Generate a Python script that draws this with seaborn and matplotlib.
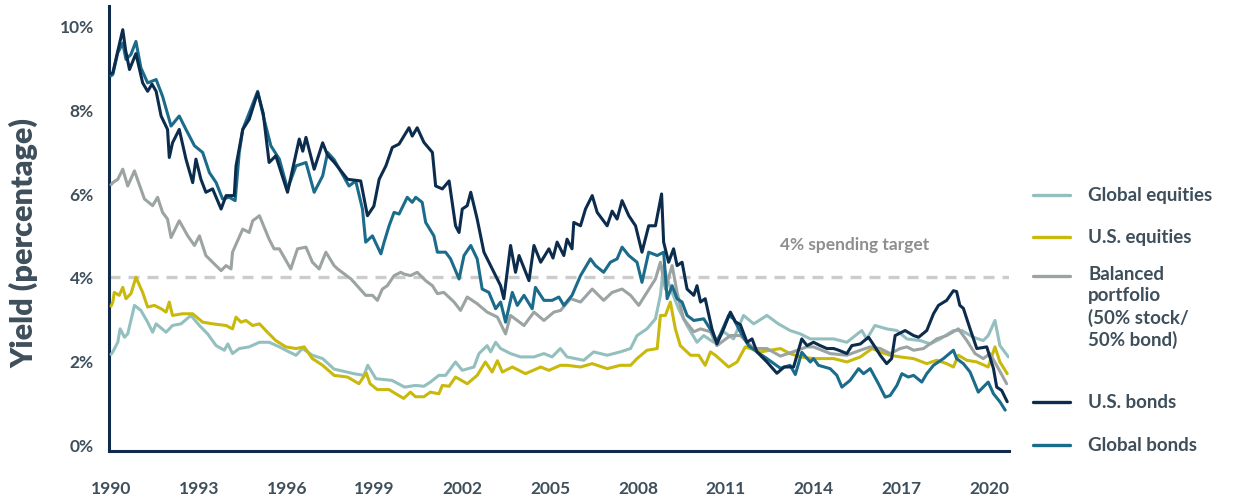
import matplotlib
matplotlib.use("Agg")
import matplotlib.pyplot as plt
from matplotlib.lines import Line2D
import seaborn as sns

# ---------------- data ----------------
us_bonds_t = [1990.0, 1990.06, 1990.2, 1990.4, 1990.5, 1990.63, 1990.85, 1991.08, 1991.25, 1991.4, 1991.54,
              1991.71, 1991.93, 1991.99, 1992.1, 1992.33, 1992.56, 1992.79, 1992.9, 1993.07, 1993.24, 1993.47,
              1993.76, 1993.93, 1994.21, 1994.27, 1994.5, 1994.72, 1995.01, 1995.2, 1995.4, 1995.63, 1996.03,
              1996.43, 1996.55, 1996.66, 1996.94, 1997.23, 1997.4, 1997.62, 1998.08, 1998.53, 1998.76, 1998.98,
              1999.16, 1999.39, 1999.61, 1999.84, 2000.18, 2000.29, 2000.46, 2000.69, 2000.98, 2001.09, 2001.32,
              2001.55, 2001.77, 2001.89, 2002.0, 2002.17, 2002.29, 2002.51, 2002.74, 2003.08, 2003.31, 2003.42,
              2003.65, 2003.82, 2003.94, 2004.28, 2004.45, 2004.68, 2004.96, 2005.1, 2005.24, 2005.47, 2005.58,
              2005.75, 2005.81, 2006.04, 2006.21, 2006.44, 2006.61, 2006.95, 2007.12, 2007.29, 2007.46, 2007.69,
              2007.92, 2008.14, 2008.37, 2008.6, 2008.81, 2008.88, 2009.05, 2009.22, 2009.34, 2009.51, 2009.68,
              2009.91, 2010.02, 2010.14, 2010.3, 2010.53, 2010.7, 2010.93, 2011.16, 2011.33, 2011.5, 2011.73,
              2011.9, 2012.07, 2012.41, 2012.75, 2013.0, 2013.32, 2013.6, 2013.78, 2014.0, 2014.23, 2014.46,
              2014.69, 2014.86, 2015.14, 2015.31, 2015.6, 2015.88, 2016.1, 2016.28, 2016.5, 2016.67, 2016.79,
              2017.13, 2017.42, 2017.59, 2017.87, 2018.1, 2018.27, 2018.55, 2018.78, 2018.89, 2019.0, 2019.12,
              2019.35, 2019.58, 2019.92, 2020.15, 2020.26, 2020.43, 2020.62]
us_bonds_v = [8.85, 8.87, 9.3, 9.9, 9.4, 8.95, 9.33, 8.63, 8.43, 8.6, 8.43,
              7.84, 7.52, 6.85, 7.2, 7.52, 6.81, 6.25, 6.81, 6.33, 6.02, 6.1,
              5.62, 5.94, 5.94, 6.65, 7.52, 7.76, 8.4, 7.9, 6.73, 6.89, 6.02,
              7.29, 7.0, 7.33, 6.57, 7.2, 6.9, 6.74, 6.33, 6.29, 5.46, 5.69,
              6.33, 6.65, 7.09, 7.17, 7.56, 7.36, 7.56, 7.21, 6.97, 6.17, 6.1,
              6.29, 5.22, 5.06, 5.62, 5.7, 6.02, 5.38, 4.59, 4.11, 3.79, 3.48,
              4.75, 4.11, 4.51, 3.91, 4.75, 4.35, 4.67, 4.45, 4.83, 4.51, 4.9,
              4.67, 5.3, 5.22, 5.62, 5.94, 5.54, 5.22, 5.57, 5.38, 5.82, 5.46,
              5.22, 4.59, 5.22, 5.22, 5.98, 4.83, 4.35, 4.67, 4.27, 4.35, 3.71,
              3.56, 3.79, 3.4, 3.48, 2.76, 2.4, 2.76, 3.16, 2.93, 2.86, 2.44,
              2.52, 2.21, 1.97, 1.7, 1.85, 1.85, 2.52, 2.36, 2.44, 2.36, 2.29,
              2.29, 2.25, 2.17, 2.36, 2.4, 2.56, 2.33, 2.13, 1.93, 2.05, 2.6,
              2.72, 2.6, 2.56, 2.72, 3.12, 3.32, 3.44, 3.67, 3.65, 3.32, 3.25,
              2.76, 2.29, 2.33, 1.81, 1.37, 1.29, 1.02]

global_bonds_t = [1990.0, 1990.06, 1990.23, 1990.4, 1990.51, 1990.68, 1990.85, 1991.02, 1991.25, 1991.54, 1991.76,
                  1992.05, 1992.33, 1992.56, 1992.85, 1993.13, 1993.36, 1993.59, 1993.81, 1994.04, 1994.24, 1994.38,
                  1994.5, 1994.78, 1995.01, 1995.23, 1995.46, 1995.75, 1996.03, 1996.32, 1996.66, 1996.94, 1997.23,
                  1997.4, 1997.62, 1997.74, 1998.13, 1998.36, 1998.59, 1998.7, 1998.93, 1999.22, 1999.33, 1999.5,
                  1999.67, 1999.84, 2000.12, 2000.29, 2000.41, 2000.63, 2000.75, 2001.03, 2001.15, 2001.43, 2001.6,
                  2001.89, 2002.06, 2002.29, 2002.51, 2002.68, 2002.91, 2003.14, 2003.31, 2003.48, 2003.71, 2003.88,
                  2004.11, 2004.39, 2004.5, 2004.79, 2005.07, 2005.3, 2005.47, 2005.75, 2006.04, 2006.38, 2006.55,
                  2006.83, 2007.06, 2007.29, 2007.46, 2007.69, 2007.97, 2008.14, 2008.37, 2008.66, 2008.88, 2009.0,
                  2009.17, 2009.34, 2009.51, 2009.68, 2009.91, 2010.25, 2010.53, 2010.7, 2011.1, 2011.27, 2011.5,
                  2011.78, 2012.07, 2012.41, 2012.87, 2013.2, 2013.38, 2013.6, 2013.89, 2014.0, 2014.17, 2014.57,
                  2014.8, 2014.97, 2015.25, 2015.54, 2015.71, 2015.94, 2016.22, 2016.45, 2016.62, 2016.85, 2017.02,
                  2017.24, 2017.42, 2017.7, 2017.87, 2018.1, 2018.44, 2018.78, 2018.89, 2019.12, 2019.35, 2019.63,
                  2019.8, 2019.97, 2020.15, 2020.37, 2020.55]
global_bonds_v = [8.8, 8.83, 9.35, 9.58, 9.19, 9.31, 9.62, 8.99, 8.63, 8.71, 8.31,
                  7.6, 7.84, 7.52, 7.13, 6.97, 6.49, 6.25, 5.86, 5.9, 5.82, 6.97,
                  7.52, 8.02, 8.43, 7.76, 7.13, 6.81, 6.1, 6.65, 6.73, 6.02, 6.41,
                  6.97, 6.8, 6.65, 6.17, 6.29, 5.62, 4.83, 4.98, 4.55, 4.83, 5.22,
                  5.54, 5.5, 5.9, 5.78, 5.9, 5.78, 5.3, 4.98, 4.59, 4.59, 4.43,
                  3.95, 4.51, 4.75, 4.43, 3.71, 3.63, 3.24, 3.4, 2.92, 3.63, 3.32,
                  3.56, 3.24, 3.75, 3.44, 3.44, 3.52, 3.32, 3.56, 4.03, 4.43, 4.27,
                  4.11, 4.35, 4.43, 4.71, 4.51, 4.35, 3.87, 4.59, 4.51, 4.59, 3.48,
                  3.79, 3.48, 3.4, 3.08, 2.96, 3.0, 2.69, 2.44, 3.08, 3.0, 2.69,
                  2.36, 2.21, 2.05, 1.82, 1.89, 1.67, 2.2, 1.97, 2.05, 1.89, 1.81,
                  1.65, 1.37, 1.53, 1.81, 1.69, 1.81, 1.45, 1.13, 1.17, 1.41, 1.69,
                  1.61, 1.65, 1.49, 1.69, 1.89, 2.05, 2.25, 2.05, 1.93, 1.73, 1.25,
                  1.37, 1.49, 1.21, 1.02, 0.82]

balanced_t = [1990.0, 1990.06, 1990.23, 1990.4, 1990.57, 1990.8, 1991.14, 1991.42, 1991.59, 1991.76, 1991.93,
              1992.05, 1992.33, 1992.62, 1992.85, 1993.02, 1993.24, 1993.47, 1993.76, 1993.93, 1994.1, 1994.15,
              1994.5, 1994.72, 1994.84, 1995.07, 1995.4, 1995.57, 1995.75, 1996.14, 1996.37, 1996.66, 1996.88,
              1997.11, 1997.34, 1997.62, 1997.74, 1998.2, 1998.7, 1998.93, 1999.1, 1999.27, 1999.44, 1999.67,
              1999.9, 2000.0, 2000.23, 2000.46, 2000.75, 2000.98, 2001.15, 2001.37, 2001.72, 2001.94, 2002.17,
              2002.51, 2002.85, 2003.2, 2003.48, 2003.65, 2003.88, 2004.11, 2004.45, 2004.79, 2005.13, 2005.36,
              2005.7, 2006.04, 2006.44, 2006.83, 2007.12, 2007.46, 2007.75, 2008.03, 2008.31, 2008.6, 2008.77,
              2008.94, 2009.17, 2009.34, 2009.56, 2009.91, 2010.14, 2010.48, 2010.7, 2011.16, 2011.5, 2011.96,
              2012.41, 2012.87, 2013.3, 2013.77, 2014.0, 2014.57, 2015.14, 2015.6, 2015.94, 2016.28, 2016.62,
              2016.96, 2017.19, 2017.42, 2017.76, 2018.21, 2018.55, 2018.95, 2019.24, 2019.52, 2019.8, 2020.03,
              2020.32, 2020.6]
balanced_v = [6.2, 6.25, 6.33, 6.57, 6.17, 6.53, 5.86, 5.7, 5.9, 5.54, 5.38,
              4.94, 5.34, 4.98, 4.75, 4.98, 4.51, 4.35, 4.15, 4.27, 4.19, 4.59,
              5.14, 5.06, 5.34, 5.46, 4.9, 4.67, 4.67, 4.19, 4.67, 4.71, 4.35,
              4.19, 4.59, 4.27, 4.19, 3.95, 3.56, 3.56, 3.44, 3.71, 3.79, 4.03,
              4.11, 4.07, 4.03, 4.11, 3.91, 3.79, 3.6, 3.63, 3.4, 3.2, 3.52,
              3.36, 3.16, 3.04, 2.64, 3.08, 2.96, 2.84, 3.16, 2.96, 3.16, 3.2,
              3.48, 3.4, 3.71, 3.44, 3.63, 3.71, 3.56, 3.32, 3.63, 3.95, 4.35,
              3.71, 4.27, 3.63, 3.0, 2.69, 2.76, 2.69, 2.36, 2.6, 2.6, 2.29,
              2.29, 2.11, 2.21, 2.33, 2.33, 2.17, 2.13, 2.25, 2.33, 2.29, 2.17,
              2.29, 2.33, 2.25, 2.29, 2.52, 2.6, 2.76, 2.48, 2.17, 2.05, 2.17,
              1.81, 1.45]

us_equities_t = [1990.0, 1990.06, 1990.11, 1990.28, 1990.4, 1990.51, 1990.68, 1990.85, 1991.08, 1991.25, 1991.48,
                 1991.71, 1991.88, 1991.99, 1992.1, 1992.44, 1992.79, 1993.13, 1993.47, 1993.93, 1994.15, 1994.27,
                 1994.44, 1994.61, 1994.84, 1995.07, 1995.4, 1995.63, 1995.97, 1996.32, 1996.6, 1996.88, 1997.23,
                 1997.62, 1998.08, 1998.47, 1998.72, 1998.85, 1999.1, 1999.5, 1999.73, 2000.0, 2000.23, 2000.4,
                 2000.69, 2000.91, 2001.2, 2001.32, 2001.55, 2001.77, 2002.17, 2002.51, 2002.79, 2003.02, 2003.2,
                 2003.37, 2003.71, 2004.16, 2004.68, 2004.96, 2005.35, 2005.58, 2006.04, 2006.44, 2006.95, 2007.4,
                 2007.75, 2007.97, 2008.31, 2008.66, 2008.77, 2008.94, 2009.11, 2009.28, 2009.45, 2009.8, 2010.08,
                 2010.3, 2010.48, 2010.65, 2011.1, 2011.39, 2011.67, 2012.18, 2012.87, 2013.2, 2013.55, 2014.0,
                 2014.69, 2015.14, 2015.6, 2016.0, 2016.28, 2016.62, 2016.96, 2017.42, 2017.87, 2018.21, 2018.55,
                 2018.78, 2018.95, 2019.24, 2019.58, 2019.97, 2020.2, 2020.37, 2020.62]
us_equities_v = [3.3, 3.4, 3.63, 3.56, 3.75, 3.48, 3.6, 3.99, 3.63, 3.28, 3.32,
                 3.24, 3.16, 3.4, 3.08, 3.12, 3.12, 2.92, 2.88, 2.84, 2.76, 3.04,
                 2.92, 2.96, 2.84, 2.88, 2.64, 2.48, 2.33, 2.29, 2.33, 2.05, 1.89,
                 1.65, 1.61, 1.45, 1.71, 1.45, 1.31, 1.31, 1.21, 1.1, 1.25, 1.14,
                 1.14, 1.25, 1.21, 1.41, 1.39, 1.61, 1.45, 1.65, 1.97, 1.73, 2.0,
                 1.73, 1.85, 1.69, 1.85, 1.77, 1.89, 1.89, 1.85, 1.93, 1.81, 1.89,
                 1.89, 2.05, 2.25, 2.29, 3.08, 3.08, 3.4, 2.76, 2.36, 2.13, 2.13,
                 1.89, 2.21, 2.13, 1.85, 1.97, 2.33, 2.21, 2.29, 2.17, 2.09, 2.05,
                 2.05, 1.97, 2.09, 2.29, 2.21, 2.13, 2.09, 2.05, 1.93, 2.01, 1.93,
                 1.85, 2.13, 2.01, 1.97, 1.85, 2.33, 1.97, 1.69]

global_equities_t = [1990.0, 1990.06, 1990.23, 1990.31, 1990.46, 1990.57, 1990.8, 1991.02, 1991.25, 1991.42, 1991.54,
                     1991.88, 1992.1, 1992.39, 1992.73, 1993.02, 1993.3, 1993.59, 1993.87, 1993.99, 1994.15, 1994.38,
                     1994.72, 1995.07, 1995.4, 1995.75, 1996.08, 1996.32, 1996.54, 1996.88, 1997.23, 1997.62, 1998.3,
                     1998.64, 1998.77, 1999.05, 1999.6, 2000.03, 2000.4, 2000.69, 2000.91, 2001.2, 2001.43, 2001.77,
                     2002.0, 2002.4, 2002.57, 2002.85, 2002.97, 2003.14, 2003.31, 2003.65, 2003.99, 2004.45, 2004.79,
                     2005.07, 2005.35, 2005.58, 2006.15, 2006.49, 2006.95, 2007.4, 2007.75, 2007.97, 2008.31, 2008.6,
                     2008.77, 2008.88, 2009.0, 2009.17, 2009.39, 2009.68, 2010.02, 2010.25, 2010.59, 2010.93, 2011.27,
                     2011.61, 2011.96, 2012.41, 2012.8, 2013.2, 2013.55, 2013.89, 2014.34, 2014.69, 2015.14, 2015.65,
                     2015.82, 2016.1, 2016.5, 2016.85, 2017.19, 2017.65, 2017.99, 2018.33, 2018.78, 2019.07, 2019.46,
                     2019.8, 2019.97, 2020.2, 2020.37, 2020.66]
global_equities_v = [2.15, 2.21, 2.44, 2.76, 2.56, 2.64, 3.32, 3.2, 2.92, 2.68, 2.88,
                     2.68, 2.84, 2.88, 3.08, 2.84, 2.64, 2.36, 2.25, 2.4, 2.17, 2.29,
                     2.33, 2.44, 2.44, 2.33, 2.21, 2.13, 2.29, 2.13, 2.05, 1.8, 1.69,
                     1.65, 1.89, 1.57, 1.53, 1.37, 1.41, 1.39, 1.49, 1.65, 1.65, 1.97,
                     1.77, 1.85, 2.17, 2.36, 2.21, 2.44, 2.29, 2.17, 2.09, 2.09, 2.17,
                     2.09, 2.29, 2.09, 2.01, 2.21, 2.13, 2.21, 2.29, 2.6, 2.76, 3.0,
                     3.56, 4.27, 3.95, 3.63, 3.24, 2.84, 2.44, 2.6, 2.44, 2.69, 2.52,
                     3.08, 2.88, 3.08, 2.88, 2.72, 2.64, 2.52, 2.52, 2.52, 2.44, 2.72,
                     2.52, 2.84, 2.76, 2.72, 2.52, 2.48, 2.4, 2.52, 2.72, 2.72, 2.56,
                     2.48, 2.6, 2.96, 2.36, 2.09]

x_ticks = [1990, 1993, 1996, 1999, 2002, 2005, 2008, 2011, 2014, 2017, 2020]
y_ticks = [0, 2, 4, 6, 8, 10]
y_tick_labels = ["0%", "2%", "4%", "6%", "8%", "10%"]
spending_target = 4.0

legend_labels = ["Global equities", "U.S. equities",
                 "Balanced\nportfolio\n(50% stock/\n50% bond)", "U.S. bonds", "Global bonds"]

# ---------------- style ----------------
sns.set_style("white")
plt.rcParams["font.family"] = ["Lato", "DejaVu Sans"]

C_GEQ = "#93c0bf"
C_UEQ = "#c9b90c"
C_BAL = "#9ba3a3"
C_UBD = "#0c2c4e"
C_GBD = "#1b6b8b"
C_TXT = "#3e4f5b"
C_AX = "#0f2a4a"

W, H = 1236, 502
fig = plt.figure(figsize=(W / 100, H / 100), dpi=100)
ax = fig.add_axes([109 / W, 1 - 452 / H, (1009 - 109) / W, (452 - 7) / H])

lw = 2.2
series = [
    (global_equities_t, global_equities_v, C_GEQ),
    (us_equities_t, us_equities_v, C_UEQ),
    (balanced_t, balanced_v, C_BAL),
    (global_bonds_t, global_bonds_v, C_GBD),
    (us_bonds_t, us_bonds_v, C_UBD),
]

ax.axhline(spending_target, color="#cccccc", lw=2.4, dashes=(3.3, 2.4), zorder=1)

for t, v, c in series:
    sns.lineplot(x=t, y=v, ax=ax, color=c, linewidth=lw, estimator=None, sort=False,
                 solid_joinstyle="round", zorder=3)

ax.set_xlim(1989.93, 2020.68)
ax.set_ylim((445.5 - 452) / 41.9, (445.5 - 7) / 41.9)

ax.set_xticks(x_ticks)
ax.set_xticklabels([str(x) for x in x_ticks])
ax.set_yticks(y_ticks)
ax.set_yticklabels(y_tick_labels)
ax.tick_params(axis="both", length=0, labelsize=12.5, labelcolor=C_TXT)
ax.tick_params(axis="y", pad=11)
ax.tick_params(axis="x", pad=21)
for lab in ax.get_xticklabels() + ax.get_yticklabels():
    lab.set_fontweight("bold")

for s in ["top", "right"]:
    ax.spines[s].set_visible(False)
for s in ["left", "bottom"]:
    ax.spines[s].set_color(C_AX)
    ax.spines[s].set_linewidth(2.2)

ax.set_xlabel("")
ax.set_ylabel("Yield (percentage)", fontsize=22, fontweight="heavy", color=C_TXT)
ax.yaxis.label.set_verticalalignment("center")
ax.yaxis.set_label_coords(-(109 - 24) / (1009 - 109), (452 - 243) / 445)

ax.text(2015.4, (445.5 - 245) / 41.9, "4% spending target", ha="center", va="center",
        fontsize=12.5, fontweight="bold", color="#8e8e8e")

# ---------------- legend (manual) ----------------
leg_colors = [C_GEQ, C_UEQ, C_BAL, C_UBD, C_GBD]
leg_y = [196, 238, 277, 403, 446]
for lab, c, py in zip(legend_labels, leg_colors, leg_y):
    fy = 1 - py / H
    fig.add_artist(Line2D([1033 / W, 1070 / W], [fy, fy], color=c, lw=2.4,
                          transform=fig.transFigure))
    if "\n" in lab:
        fig.text(1088 / W, 1 - (py - 11) / H, lab, ha="left", va="top", fontsize=13.5,
                 fontweight="bold", color=C_TXT, linespacing=1.3)
    else:
        fig.text(1088 / W, fy, lab, ha="left", va="center", fontsize=13.5,
                 fontweight="bold", color=C_TXT)

fig.savefig("out.png", dpi=100)
